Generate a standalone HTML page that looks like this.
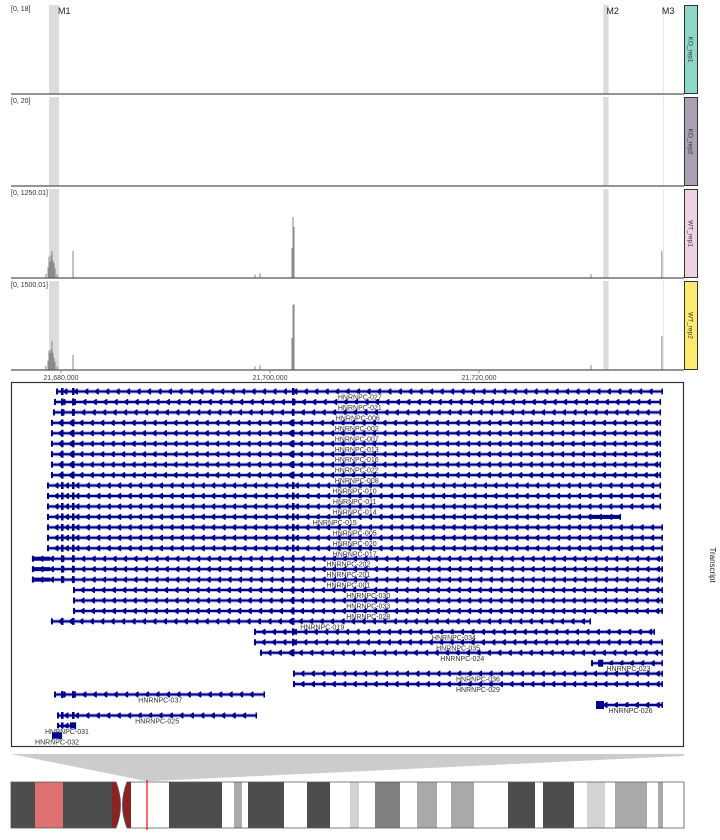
<!DOCTYPE html>
<html><head><meta charset="utf-8">
<style>
body{margin:0;background:#fff;width:720px;height:840px;overflow:hidden;font-family:"Liberation Sans",sans-serif}
svg{display:block}
text{font-family:"Liberation Sans",sans-serif}
</style></head>
<body>
<svg id="chart" width="720" height="840" viewBox="0 0 720 840"></svg>
<script>
// ---- data (positions in kb relative to 21,680,000) ----
const tickLabels = ["21,680,000","21,700,000","21,720,000"];
const tickKb = [0, 20, 40];
const trackNames = ["KO_rep1","KO_rep2","WT_rep1","WT_rep2"];
const trackRanges = ["[0, 18]","[0, 20]","[0, 1250.01]","[0, 1500.01]"];
const trackMax = [18, 20, 1250.01, 1500.01];
const trackColors = ["#8ed6c6","#a9a1b3","#efd2e2","#fde96e"];
const peakKb = [-1.44,-1.24,-1.15,-1.05,-0.96,-0.86,-0.77,-0.67,-0.57,-0.38,1.15,18.56,19.04,22.1,22.2,22.3,50.72,57.5];
const ko1Vals = [0,0,0,0,0,0,0,0,0,0,0,0,0,0,0,0,0,0];
const ko2Vals = [0,0,0,0,0,0,0,0,0,0,0,0,0,0,0,0,0,0];
const wt1Vals = [60,150,300,225,320,380,250,210,140,55,380,50,70,420,857,716,56,380];
const wt2Vals = [70,160,330,290,350,489,290,200,140,60,253,60,84,540,1096,1112,84,573];
const markerNames = ["M1","M2","M3"];
const markerStart = [-1.15,51.9,57.6];
const markerEnd = [-0.19,52.4,57.65];
const txNames = ["HNRNPC-027","HNRNPC-021","HNRNPC-006","HNRNPC-002","HNRNPC-007","HNRNPC-013","HNRNPC-016","HNRNPC-022","HNRNPC-008","HNRNPC-010","HNRNPC-011","HNRNPC-014","HNRNPC-015","HNRNPC-005","HNRNPC-020","HNRNPC-017","HNRNPC-202","HNRNPC-201","HNRNPC-001","HNRNPC-030","HNRNPC-033","HNRNPC-028","HNRNPC-019","HNRNPC-034","HNRNPC-035","HNRNPC-024","HNRNPC-023","HNRNPC-036","HNRNPC-029","HNRNPC-037","HNRNPC-026","HNRNPC-025","HNRNPC-031","HNRNPC-032"];
const txStart = [-0.48,-0.67,-0.77,-0.96,-0.96,-0.96,-0.96,-0.96,-0.96,-1.34,-1.34,-1.34,-1.34,-1.34,-1.34,-1.34,-2.78,-2.78,-2.78,1.15,1.15,1.15,-0.96,18.47,18.47,19.04,50.72,22.2,22.2,-0.67,51.2,-0.38,-0.38,-0.86];
const txEnd = [57.6,57.42,57.42,57.42,57.42,57.42,57.42,57.42,57.42,57.42,57.42,57.42,53.59,57.6,57.6,57.6,57.6,57.6,57.6,57.6,57.6,57.6,50.72,56.84,57.6,57.6,57.6,57.6,57.6,19.52,57.6,18.76,1.44,0.1];
const txLabelKb = [28.6,28.6,28.4,28.3,28.3,28.3,28.3,28.3,28.3,28.1,28.1,28.1,26.2,28.1,28.1,28.1,27.5,27.5,27.5,29.4,29.4,29.4,25,37.6,38,38.4,54.3,39.9,39.9,9.5,54.5,9.2,0.57,-0.38];

// ---- scales ----
const X0 = 61, PXKB = 10.45;
const xs = kb => X0 + kb * PXKB;
const NS = "http://www.w3.org/2000/svg";
const svg = document.getElementById("chart");
function mk(tag, attrs, parent){const e=document.createElementNS(NS,tag);for(const k in attrs)e.setAttribute(k,attrs[k]);(parent||svg).appendChild(e);return e;}

// ---- coverage tracks ----
const trackTop = [5, 97, 189, 281], trackH = 89;
const trackVals = [ko1Vals, ko2Vals, wt1Vals, wt2Vals];
for (let t=0;t<4;t++){
  const g = mk("g",{});
  
  
  const top = trackTop[t], base = top + trackH;
  for (let m=0;m<3;m++){
    const r = mk("rect",{x:xs(markerStart[m]),y:top,width:Math.max(1,xs(markerEnd[m])-xs(markerStart[m])),height:trackH,fill:m==2?"#e6e6e6":"#dcdcdc"},g);
    
    
  }
  const lbl = mk("text",{x:11,y:top+6,"font-size":7,fill:"#333"},g);
  lbl.textContent = trackRanges[t];
  
  
  const vals = trackVals[t];
  for (let i=0;i<peakKb.length;i++){
    const h = vals[i]/trackMax[t]*trackH;
    if (h<=0) continue;
    const b = mk("rect",{x:xs(peakKb[i])-0.5,y:base-h,width:1,height:h,fill:"#888"},g);
    
    
  }
  const ax = mk("line",{x1:11,x2:684,y1:base,y2:base,stroke:"#555","stroke-width":1.3},g);
  
  
  const box = mk("rect",{x:684.5,y:top+0.5,width:13,height:trackH-1,fill:trackColors[t],stroke:"#333","stroke-width":1},g);
  
  
  const nm = mk("text",{x:0,y:0,"font-size":6.5,fill:"#333","text-anchor":"middle",transform:`translate(688.5,${top+trackH/2}) rotate(90)`},g);
  nm.textContent = trackNames[t];
  
  
}
for (let m=0;m<3;m++){
  const mt = mk("text",{x:xs(markerStart[m])+(m==0?9:(m==1?3:-1)),y:14,"font-size":9,fill:"#222"});
  mt.textContent = markerNames[m];
  
  
}
for (let i=0;i<tickKb.length;i++){
  const tk = mk("line",{x1:xs(tickKb[i]),x2:xs(tickKb[i]),y1:370,y2:373,stroke:"#888"});
  
  
  const tl = mk("text",{x:xs(tickKb[i]),y:380,"font-size":7,fill:"#444","text-anchor":"middle"});
  tl.textContent = tickLabels[i];
  
  
}

// ---- transcripts ----
const frame = mk("rect",{x:11.5,y:382.5,width:672,height:364,fill:"none",stroke:"#333","stroke-width":1.2});


const tTitle = mk("text",{x:0,y:0,"font-size":8,fill:"#222","text-anchor":"middle",transform:"translate(710,565) rotate(90)"});
tTitle.textContent = "Transcript";


const NAVY = "#00008b";
const rowY = i => 391.5 + i*10.45;
for (let i=0;i<txNames.length;i++){
  const g = mk("g",{});
  
  
  const y = rowY(i), x1 = xs(txStart[i]), x2 = xs(txEnd[i]);
  mk("line",{x1:x1,x2:x2,y1:y,y2:y,stroke:"#b8b8e8","stroke-width":4},g);
  mk("line",{x1:x1,x2:x2,y1:y,y2:y,stroke:NAVY,"stroke-width":2},g);
  for (let ax=x1+9; ax<x2-4; ax+=10.45){
    mk("path",{d:`M${ax-2.5} ${y} L${ax+1.5} ${y-3} L${ax+2.5} ${y-3} L${ax+2.5} ${y+3} L${ax+1.5} ${y+3} Z`,fill:NAVY},g);
  }
  mk("rect",{x:x1,y:y-3,width:2,height:6,fill:NAVY},g);
  mk("rect",{x:x2-1.5,y:y-3,width:1.5,height:6,fill:NAVY},g);
  [0.1,1.15,22.2].forEach(k=>{ if(xs(k)>x1+2 && xs(k)<x2-2) mk("rect",{x:xs(k)-1,y:y-3.5,width:2.5,height:7,fill:NAVY},g); });
  if (txStart[i] < -2) mk("rect",{x:x1,y:y-2,width:18,height:4,fill:NAVY},g);
  if (txNames[i]=="HNRNPC-015") mk("rect",{x:xs(50.72),y:y-2,width:30,height:4,fill:NAVY},g);
  if (txNames[i]=="HNRNPC-026") mk("rect",{x:x1,y:y-4,width:8,height:8,fill:NAVY},g);
  if (txNames[i]=="HNRNPC-023") mk("rect",{x:xs(51.4),y:y-3.5,width:5,height:7,fill:NAVY},g);
  if (txNames[i]=="HNRNPC-031") mk("rect",{x:x2-6,y:y-3.5,width:6,height:7,fill:NAVY},g);
  if (txNames[i]=="HNRNPC-032") mk("rect",{x:x1,y:y-4,width:x2-x1,height:8,fill:NAVY},g);
  const lt = mk("text",{x:xs(txLabelKb[i]),y:y+8,"font-size":7,fill:"#333","text-anchor":"middle",stroke:"#fff","stroke-width":1.6,"paint-order":"stroke"},g);
  lt.textContent = txNames[i];
}

// ---- ideogram ----
const zoomPoly = mk("polygon",{points:"11,754 684,754 684,756 152,781 146,781",fill:"#cccccc"});


const bandStart = [11,35,63,131,169,222,234,242,248,284,307,330,350,359,375,400,417,437,451,474,508,535,543,574,587,605,615,647,658,663];
const bandEnd   = [35,63,112,169,222,234,242,248,284,307,330,350,359,375,400,417,437,451,474,508,535,543,574,587,605,615,647,658,663,684];
const bandColor = ["#4d4d4d","#dd7070","#4d4d4d","#fff","#4d4d4d","#fff","#aaa","#fff","#4d4d4d","#fff","#4d4d4d","#fff","#d3d3d3","#fff","#808080","#fff","#a9a9a9","#fff","#a9a9a9","#fff","#4d4d4d","#fff","#4d4d4d","#fff","#d3d3d3","#fff","#a9a9a9","#fff","#a9a9a9","#fff"];
const ig = mk("g",{});


for (let i=0;i<bandStart.length;i++){
  mk("rect",{x:bandStart[i],y:782,width:bandEnd[i]-bandStart[i],height:46,fill:bandColor[i]},ig);
}
mk("path",{d:"M112 782 L116 782 Q125 805 116 828 L112 828 Z",fill:"#8b2323"},ig);
mk("path",{d:"M131 782 L127 782 Q118 805 127 828 L131 828 Z",fill:"#8b2323"},ig);
mk("path",{d:"M11 782 L116 782 Q125 805 116 828 L11 828 Z",fill:"none",stroke:"#555","stroke-width":0.8},ig);
mk("path",{d:"M684 782 L127 782 Q118 805 127 828 L684 828 Z",fill:"none",stroke:"#555","stroke-width":0.8},ig);
const redLine = mk("line",{x1:147,x2:147,y1:780,y2:830,stroke:"#ff0000","stroke-width":1.2});


</script>
</body></html>
